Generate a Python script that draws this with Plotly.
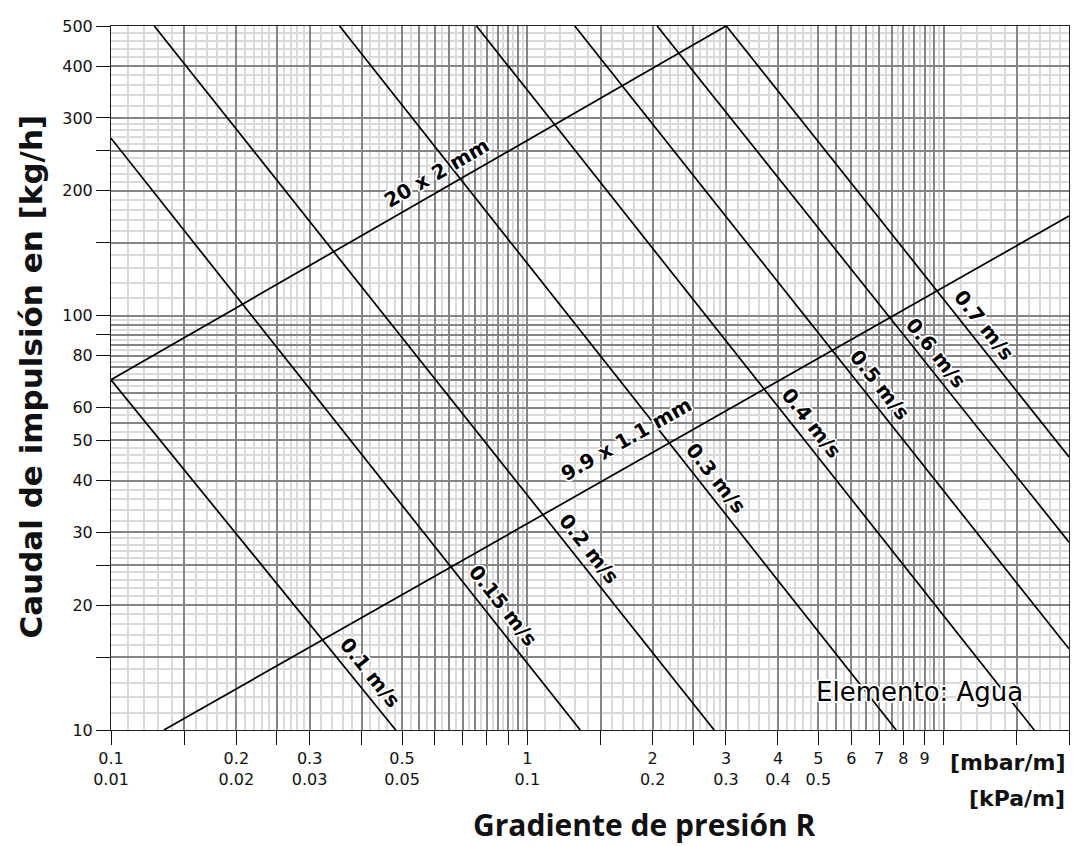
import math
import plotly.graph_objects as go

# ---------------- data ----------------
# Pipe characteristic lines: pressure gradient R [mbar/m] vs flow [kg/h]
pipe_names = ["20 x 2 mm", "9.9 x 1.1 mm"]
pipe_R = [[0.1, 3.0], [0.134, 20.0]]
pipe_Q = [[70.0, 500.0], [10.0, 174.0]]
pipe_label_R = [0.605, 1.73]
pipe_label_Q = [221.0, 50.4]

# Constant-velocity lines
vel_names = ["0.1 m/s", "0.15 m/s", "0.2 m/s", "0.3 m/s", "0.4 m/s",
             "0.5 m/s", "0.6 m/s", "0.7 m/s"]
vel_R_start = [0.1, 0.1, 0.127, 0.354, 0.755, 1.30, 2.05, 3.006]
vel_Q_start = [70.0, 268.0, 500.0, 500.0, 500.0, 500.0, 500.0, 500.0]
vel_R_end = [0.483, 1.34, 2.81, 7.69, 16.5, 20.0, 20.0, 20.0]
vel_Q_end = [10.0, 10.0, 10.0, 10.0, 10.0, 15.7, 28.4, 45.6]
vel_label_R = [0.418, 0.872, 1.41, 2.84, 4.81, 7.04, 9.59, 12.5]
vel_label_Q = [13.8, 20.0, 27.4, 40.6, 55.0, 68.2, 81.4, 95.0]

# Axis ticks / labels
x_tick_vals = [0.1, 0.15, 0.2, 0.25, 0.3, 0.4, 0.5, 0.6, 0.7, 0.8, 0.9, 1,
               1.5, 2, 2.5, 3, 4, 5, 6, 7, 8, 9, 10, 15, 20]
x_tick_text = ["0.1<br>0.01", "", "0.2<br>0.02", "", "0.3<br>0.03", "",
               "0.5<br>0.05", "", "", "", "", "1<br>0.1", "", "2<br>0.2", "",
               "3<br>0.3", "4<br>0.4", "5<br>0.5", "6", "7", "8", "9", "", "", ""]
y_tick_vals = [10, 15, 20, 25, 30, 40, 50, 60, 80, 90, 100, 150, 200, 250,
               300, 400, 500]
y_tick_text = ["10", "", "20", "", "30", "40", "50", "60", "80", "", "100",
               "", "200", "", "300", "400", "500"]

# Grid (dark = major, light = minor)
x_grid_major = [0.1, 0.15, 0.2, 0.25, 0.3, 0.4, 0.5, 0.55, 0.6, 0.65, 0.7,
                0.75, 0.8, 0.85, 0.9, 0.95, 1, 1.5, 2, 2.5, 3, 4, 5, 5.5, 6,
                6.5, 7, 7.5, 8, 8.5, 9, 9.5, 10, 15, 20]
x_grid_minor = [0.11, 0.12, 0.13, 0.14, 0.16, 0.17, 0.18, 0.19, 0.21, 0.22,
                0.23, 0.24, 0.26, 0.27, 0.28, 0.29, 0.32, 0.34, 0.36, 0.38,
                0.42, 0.44, 0.46, 0.48, 0.525, 0.575, 0.625, 0.675, 0.725,
                0.775, 0.825, 0.875, 0.925, 0.975, 1.1, 1.2, 1.3, 1.4, 1.6,
                1.7, 1.8, 1.9, 2.1, 2.2, 2.3, 2.4, 2.6, 2.7, 2.8, 2.9, 3.2,
                3.4, 3.6, 3.8, 4.2, 4.4, 4.6, 4.8, 5.25, 5.75, 6.25, 6.75,
                7.25, 7.75, 8.25, 8.75, 9.25, 9.75, 11, 12, 13, 14, 16, 17,
                18, 19]
y_grid_major = [10, 15, 20, 25, 30, 40, 50, 55, 60, 65, 70, 75, 80, 85, 90,
                95, 100, 150, 200, 250, 300, 400, 500]
y_grid_minor = [11, 12, 13, 14, 16, 17, 18, 19, 21, 22, 23, 24, 26, 27, 28,
                29, 32, 34, 36, 38, 42, 44, 46, 48, 52.5, 57.5, 62.5, 67.5,
                72.5, 77.5, 82.5, 87.5, 92.5, 97.5, 110, 120, 130, 140, 160,
                170, 180, 190, 210, 220, 230, 240, 260, 270, 280, 290, 320,
                340, 360, 380, 420, 440, 460, 480]

X_RANGE = [0.1, 20]
Y_RANGE = [10, 500]

# ---------------- layout geometry ----------------
# the page body has an 8px margin; plot area in the page: x 111..1070, y 21..730
BODY = 8
PX0, PX1, PY0, PY1 = 111, 1070, 21, 730
W, H = 1079 - BODY, 846 - BODY
ML, MT = PX0 - BODY, PY0 - BODY
MR = W - (PX1 - BODY)
MB = H - (PY1 - BODY)
PW, PH = PX1 - PX0, PY1 - PY0
px_dec_x = PW / (math.log10(X_RANGE[1]) - math.log10(X_RANGE[0]))
px_dec_y = PH / (math.log10(Y_RANGE[1]) - math.log10(Y_RANGE[0]))


def paper_x(px):
    return (px - PX0) / PW


def paper_y(py):
    return (PY1 - py) / PH


def screen_angle(r0, q0, r1, q1):
    dx = (math.log10(r1) - math.log10(r0)) * px_dec_x
    dy = (math.log10(q1) - math.log10(q0)) * px_dec_y
    return -math.degrees(math.atan2(dy, dx))


HALO = ("1px 1px 0 #fff, -1px -1px 0 #fff, 1px -1px 0 #fff, -1px 1px 0 #fff, "
        "2px 0 0 #fff, -2px 0 0 #fff, 0 2px 0 #fff, 0 -2px 0 #fff, "
        "0 0 3px #666")
LABEL_FONT = "DejaVu Sans"
TICK_FONT = "DejaVu Sans"

fig = go.Figure()

for i, name in enumerate(vel_names):
    fig.add_trace(go.Scatter(
        x=[vel_R_start[i], vel_R_end[i]], y=[vel_Q_start[i], vel_Q_end[i]],
        mode="lines", line=dict(color="#000", width=1.7),
        name=name, hoverinfo="skip", showlegend=False))

for i, name in enumerate(pipe_names):
    fig.add_trace(go.Scatter(
        x=pipe_R[i], y=pipe_Q[i], mode="lines",
        line=dict(color="#000", width=1.7),
        name=name, hoverinfo="skip", showlegend=False))

# invisible trace to carry the tick/label axes
fig.add_trace(go.Scatter(x=[1], y=[100], xaxis="x2", yaxis="y2",
                         mode="markers", marker=dict(opacity=0),
                         hoverinfo="skip", showlegend=False))

annotations = []
for i, name in enumerate(vel_names):
    ang = screen_angle(vel_R_start[i], vel_Q_start[i], vel_R_end[i], vel_Q_end[i])
    annotations.append(dict(
        x=math.log10(vel_label_R[i]), y=math.log10(vel_label_Q[i]),
        xref="x", yref="y", text="<b>%s</b>" % name, showarrow=False,
        textangle=ang, xanchor="center", yanchor="middle",
        font=dict(family=LABEL_FONT, size=20, color="#000", shadow=HALO)))
for i, name in enumerate(pipe_names):
    ang = screen_angle(pipe_R[i][0], pipe_Q[i][0], pipe_R[i][1], pipe_Q[i][1])
    annotations.append(dict(
        x=math.log10(pipe_label_R[i]), y=math.log10(pipe_label_Q[i]),
        xref="x", yref="y", text="<b>%s</b>" % name, showarrow=False,
        textangle=ang, xanchor="center", yanchor="middle",
        font=dict(family=LABEL_FONT, size=20, color="#000", shadow=HALO)))

annotations += [
    dict(x=paper_x(920), y=paper_y(692), xref="paper", yref="paper",
         text="Elemento: Agua", showarrow=False, xanchor="center",
         yanchor="middle",
         font=dict(family="DejaVu Sans", size=26, color="#000", shadow=HALO)),
    dict(x=paper_x(1068), y=paper_y(763), xref="paper", yref="paper",
         text="<b>[mbar/m]</b>", showarrow=False, xanchor="right",
         yanchor="middle", font=dict(family="DejaVu Sans", size=22, color="#111")),
    dict(x=paper_x(1068), y=paper_y(799), xref="paper", yref="paper",
         text="<b>[kPa/m]</b>", showarrow=False, xanchor="right",
         yanchor="middle", font=dict(family="DejaVu Sans", size=22, color="#111")),
    dict(x=paper_x(645), y=paper_y(825), xref="paper", yref="paper",
         text="<b>Gradiente de presión R</b>", showarrow=False,
         xanchor="center", yanchor="middle",
         font=dict(family="Open Sans", size=30, color="#111")),
    dict(x=paper_x(30), y=paper_y(374), xref="paper", yref="paper",
         text="<b>Caudal de impulsión en [kg/h]</b>", showarrow=False,
         textangle=-90, xanchor="center", yanchor="middle",
         font=dict(family="DejaVu Sans", size=31, color="#111")),
]

xr = [math.log10(X_RANGE[0]), math.log10(X_RANGE[1])]
yr = [math.log10(Y_RANGE[0]), math.log10(Y_RANGE[1])]

grid_axis = dict(
    type="log", showticklabels=False, ticks="", tickmode="array",
    showgrid=True, gridcolor="#858585", gridwidth=1.5,
    minor=dict(showgrid=True, gridcolor="#dadada", gridwidth=1.6, ticks=""),
    showline=True, linecolor="#222", linewidth=1.3, mirror=True,
    zeroline=False, fixedrange=True)

fig.update_layout(
    width=W, height=H,
    margin=dict(l=ML, r=MR, t=MT, b=MB, pad=0),
    paper_bgcolor="white", plot_bgcolor="white",
    showlegend=False,
    xaxis=dict(grid_axis, range=xr, tickvals=x_grid_major,
               minor=dict(grid_axis["minor"], tickvals=x_grid_minor)),
    yaxis=dict(grid_axis, range=yr, tickvals=y_grid_major,
               minor=dict(grid_axis["minor"], tickvals=y_grid_minor)),
    xaxis2=dict(type="log", overlaying="x", anchor="y", side="bottom",
                range=xr, tickmode="array", tickvals=x_tick_vals,
                ticktext=x_tick_text, ticks="outside", ticklen=14,
                tickcolor="#111", tickwidth=1.2, showgrid=False,
                showline=False, zeroline=False,
                tickfont=dict(family=TICK_FONT, size=16, color="#111")),
    yaxis2=dict(type="log", overlaying="y", anchor="x", side="left",
                range=yr, tickmode="array", tickvals=y_tick_vals,
                ticktext=y_tick_text, ticks="outside", ticklen=14,
                tickcolor="#111", tickwidth=1.2, showgrid=False,
                showline=False, zeroline=False,
                tickfont=dict(family=TICK_FONT, size=16, color="#111")),
    annotations=annotations,
)

fig.write_html("out.html")
